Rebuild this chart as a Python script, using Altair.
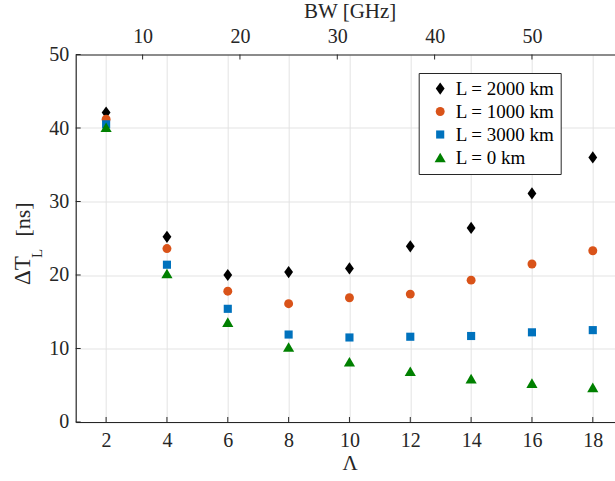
import altair as alt
import pandas as pd

# ---- data ----
lam = [2, 4, 6, 8, 10, 12, 14, 16, 18]
series_names = ["L = 2000 km", "L = 1000 km", "L = 3000 km", "L = 0 km"]
L2000 = [42.1, 25.2, 20.0, 20.4, 20.9, 23.9, 26.4, 31.1, 36.0]
L1000 = [41.2, 23.6, 17.8, 16.1, 16.9, 17.4, 19.3, 21.5, 23.3]
L3000 = [40.5, 21.4, 15.4, 11.9, 11.5, 11.6, 11.7, 12.2, 12.5]
L0 = [40.1, 20.2, 13.6, 10.2, 8.2, 6.9, 5.9, 5.3, 4.7]

x_ticks = [2, 4, 6, 8, 10, 12, 14, 16, 18]
y_ticks = [0, 10, 20, 30, 40, 50]
bw_ticks = [10, 20, 30, 40, 50]
bw_per_lambda = 3.125

colors = ["#000000", "#D95319", "#0072BD", "#008000"]
shapes = ["M0,-1L0.72,0L0,1L-0.72,0Z", "circle", "square", "triangle-up"]
sizes = [150, 80, 66, 125]

rows = []
for i, (name, vals) in enumerate(zip(series_names, [L2000, L1000, L3000, L0])):
    for l, v in zip(lam, vals):
        rows.append({"lam": l, "dt": v, "series": name, "ord": i})
df = pd.DataFrame(rows)

W, H = 539, 367.5
FONT = "Liberation Serif"
xscale = alt.Scale(domain=[1, 18.72], nice=False, zero=False)
yscale = alt.Scale(domain=[0, 50], nice=False)

points = alt.Chart(df).mark_point(filled=True, opacity=1, strokeWidth=0).encode(
    x=alt.X("lam:Q", scale=xscale,
            axis=alt.Axis(values=x_ticks, grid=True, ticks=False, tickSize=0,
                          labelPadding=9, title="Λ", titleX=274, titleY=48,
                          titleBaseline="alphabetic", titleFontWeight="normal")),
    y=alt.Y("dt:Q", scale=yscale,
            axis=alt.Axis(values=y_ticks, grid=True, ticks=False, tickSize=0,
                          labelPadding=7, title=None)),
    color=alt.Color("series:N", scale=alt.Scale(domain=series_names, range=colors),
                    legend=alt.Legend(title=None, orient="none", legendX=343, legendY=18.5,
                                      fillColor="white", strokeColor="#262626",
                                      padding=6, rowPadding=3, labelOffset=6,
                                      symbolOffset=6,
                                      labelFont=FONT, labelFontSize=19, labelColor="black",
                                      symbolStrokeWidth=0, symbolOpacity=1)),
    shape=alt.Shape("series:N", scale=alt.Scale(domain=series_names, range=shapes)),
    size=alt.Size("series:N", scale=alt.Scale(type="ordinal", domain=series_names, range=sizes)),
    order=alt.Order("ord:Q"),
)

# top BW axis with inward ticks
bw_df = pd.DataFrame({"bw": bw_ticks})
top = alt.Chart(bw_df).transform_calculate(
    lamv=f"datum.bw / {bw_per_lambda}"
).mark_rule(color="#262626", strokeWidth=1).encode(
    x=alt.X("lamv:Q", scale=xscale,
            axis=alt.Axis(orient="top", values=[b / bw_per_lambda for b in bw_ticks],
                          labelExpr=f"format(datum.value * {bw_per_lambda}, 'd')",
                          grid=False, ticks=False, tickSize=0, labelPadding=8,
                          title="BW [GHz]", titleFontWeight="normal", titleX=274,
                          titleY=-37, titleBaseline="alphabetic")),
    y=alt.value(0), y2=alt.value(5),
)

# inward ticks on bottom and left
bt = alt.Chart(pd.DataFrame({"t": x_ticks})).mark_rule(color="#262626").encode(
    x=alt.X("t:Q", scale=xscale, axis=None), y=alt.value(H), y2=alt.value(H - 5))
lt = alt.Chart(pd.DataFrame({"t": y_ticks})).mark_rule(color="#262626").encode(
    y=alt.Y("t:Q", scale=yscale, axis=None), x=alt.value(0), x2=alt.value(5))

# y-axis title with subscript
t1 = alt.Chart(pd.DataFrame({"txt": ["ΔT"]})).mark_text(angle=270, font=FONT, fontSize=23, align="center",
                               baseline="alphabetic", color="#262626").encode(
    text="txt:N", x=alt.value(-45.5), y=alt.value(216))
t2 = alt.Chart(pd.DataFrame({"txt": ["L"]})).mark_text(angle=270, font=FONT, fontSize=15,
                               align="center", baseline="alphabetic", color="#262626").encode(
    text="txt:N", x=alt.value(-33.5), y=alt.value(199))
t3 = alt.Chart(pd.DataFrame({"txt": ["[ns]"]})).mark_text(angle=270, font=FONT, fontSize=22,
                               align="center", baseline="alphabetic", color="#262626").encode(
    text="txt:N", x=alt.value(-45.5), y=alt.value(165))

chart = alt.layer(bt, lt, top, points, t1, t2, t3).resolve_axis(
    x="independent", y="independent"
).properties(
    width=W, height=H,
    background="white",
    autosize=alt.AutoSizeParams(type="none"),
    padding={"left": 75.7, "top": 54.5, "right": 0, "bottom": 59},
).configure_view(stroke=None).configure_axis(
    labelFont=FONT, labelFontSize=20, labelColor="#262626",
    titleFont=FONT, titleFontSize=21, titleColor="#262626",
    domainColor="#262626", domainWidth=1.2,
    gridColor="#e3e3e3", gridWidth=1,
)

chart.save("out.html", embed_options={"renderer": "svg", "actions": False})
